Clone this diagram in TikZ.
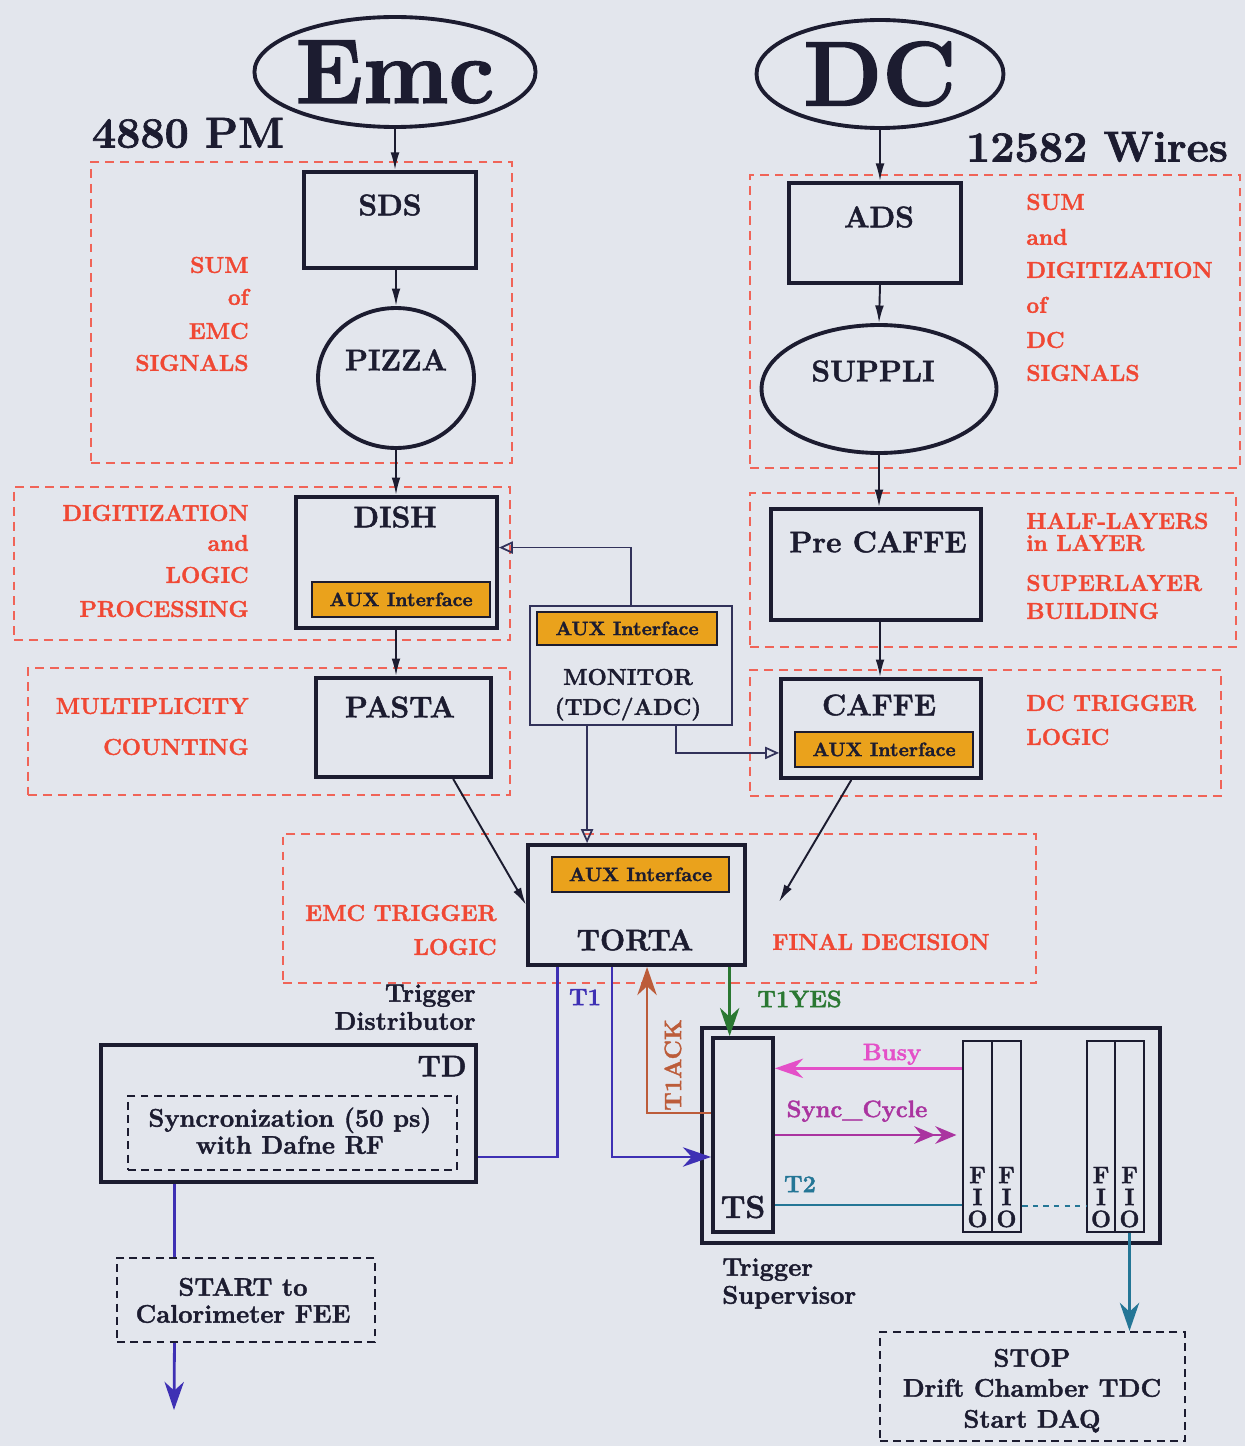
\documentclass[tikz,border=0pt]{standalone}
\usepackage{fontspec}
\setmainfont{Latin Modern Roman}[BoldFeatures={FakeBold=1.6}]
\usepackage{tikz}
\usetikzlibrary{shapes.geometric,fit,arrows.meta}

\definecolor{bgc}{RGB}{227,230,237}
\definecolor{boxc}{RGB}{28,28,48}
\definecolor{linec}{RGB}{50,50,90}
\definecolor{redc}{RGB}{240,72,52}
\definecolor{grpc}{RGB}{240,100,88}
\definecolor{auxc}{RGB}{234,162,28}
\definecolor{t1c}{RGB}{62,48,180}
\definecolor{ackc}{RGB}{188,92,58}
\definecolor{yesc}{RGB}{42,120,50}
\definecolor{busyc}{RGB}{228,80,200}
\definecolor{syncc}{RGB}{170,52,160}
\definecolor{t2c}{RGB}{36,118,150}

\newcommand{\setfs}[1]{\fontsize{#1}{#1}\selectfont}

\tikzset{
	blk/.style={draw=boxc, line width=2.2pt, inner sep=0pt},
	ell/.style={ellipse, draw=boxc, line width=2.2pt, inner sep=0pt, text=boxc},
	grp/.style={draw=grpc, line width=1.5pt, dash pattern=on 5pt off 3.5pt, inner sep=0pt},
	dbox/.style={draw=boxc, line width=1.2pt, dash pattern=on 4.5pt off 3pt, inner sep=0pt},
	aux/.style={draw=boxc, fill=auxc, line width=1pt, inner sep=0pt},
	auxt/.style={text=boxc, font=\bfseries\setfs{11}, text height=7.5pt, text depth=0pt, inner sep=0pt},
	fifo/.style={draw=boxc, line width=1.5pt, inner sep=0pt},
	lab/.style={text=boxc, font=\bfseries\setfs{17}, text height=11.7pt, text depth=0pt, inner sep=0pt},
	note/.style={text=redc, font=\bfseries\setfs{13}, text height=8.9pt, text depth=0pt, inner sep=0pt},
	small/.style={text=boxc, font=\bfseries\setfs{14.5}, text height=9.9pt, text depth=0pt, inner sep=0pt},
	sig/.style={font=\bfseries\setfs{13.5}, text height=9.2pt, text depth=0pt, inner sep=0pt},
	arr/.style={draw=boxc, line width=1.1pt, -{Latex[length=10pt,width=5pt]}},
	oarr/.style={draw=linec, line width=1pt, -{Triangle[open,length=8pt,width=7pt]}},
	carr/.style={line width=1.6pt, -{Stealth[length=16pt,width=11pt,inset=5pt]}},
}

\begin{document}
\begin{tikzpicture}[x=0.02cm, y=-0.02cm]
	% background
	\fill[bgc] (0,0) rectangle (1245,1446);
	\useasboundingbox (0,0) rectangle (1245,1446);
	% red dashed groups
	\node[grp, fit={(91,162) (512,463)}] (gsum) {};
	\node[grp, fit={(750,175) (1240,468)}] (gsumdc) {};
	\node[grp, fit={(14,487) (510,640)}] (gdig) {};
	\node[grp, fit={(750,493) (1236,647)}] (glay) {};
	\node[grp, fit={(28,668) (510,795)}] (gmult) {};
	\node[grp, fit={(750,670) (1221,796)}] (gdct) {};
	\node[grp, fit={(283,834) (1036,983)}] (gfin) {};
	% detectors
	\node[ell, minimum width=4.98cm, minimum height=2.2cm, font=\bfseries\setfs{52}] (emc) at (395,72) {Emc};
	\node[ell, minimum width=4.94cm, minimum height=2.16cm, font=\bfseries\setfs{52}] (dc) at (880,74) {DC};
	\node[text=boxc, font=\bfseries\setfs{24.5}, inner sep=0pt] (npm) at (188,133) {4880 PM};
	\node[text=boxc, font=\bfseries\setfs{24.5}, inner sep=0pt] (nwires) at (1097,147) {12582 Wires};
	% emc chain
	\node[blk, fit={(304,172) (476,268)}] (sds) {};
	\node[lab] (sdst) at (390,205) {SDS};
	\node[ell, minimum width=3.12cm, minimum height=2.8cm] (pizza) at (396,378) {};
	\node[lab] (pizzat) at (396,360) {PIZZA};
	\node[blk, fit={(296,497) (497,628)}] (dish) {};
	\node[lab] (disht) at (395,517) {DISH};
	\node[aux, fit={(312,582) (490,617)}] (dishaux) {};
	\node[auxt] (dishauxt) at (dishaux) {AUX Interface};
	\node[blk, fit={(316,678) (491,777)}] (pasta) {};
	\node[lab] (pastat) at (400,707) {PASTA};
	% dc chain
	\node[blk, fit={(789,183) (961,283)}] (ads) {};
	\node[lab] (adst) at (879,217) {ADS};
	\node[ell, minimum width=4.7cm, minimum height=2.56cm] (suppli) at (879,389) {};
	\node[lab] (supplit) at (873,371) {SUPPLI};
	\node[blk, fit={(771,509) (981,620)}] (precaffe) {};
	\node[lab] (precaffet) at (878,542) {Pre CAFFE};
	\node[blk, fit={(781,679) (981,778)}] (caffe) {};
	\node[lab] (caffet) at (879,705) {CAFFE};
	\node[aux, fit={(795,732) (973,767)}] (caffeaux) {};
	\node[auxt] (caffeauxt) at (caffeaux) {AUX Interface};
	% monitor and torta
	\node[draw=linec, line width=0.9pt, inner sep=0pt, fit={(530,606) (732,725)}] (monitor) {};
	\node[aux, fit={(537,612) (717,645)}] (monaux) {};
	\node[auxt] (monauxt) at (monaux) {AUX Interface};
	\node[lab, font=\bfseries\setfs{13}, text height=8.9pt] (mont) at (628,677) {MONITOR};
	\node[lab, font=\bfseries\setfs{13}, text height=8.9pt] (mont2) at (628,707) {(TDC/ADC)};
	\node[blk, fit={(528,845) (745,965)}] (torta) {};
	\node[aux, fit={(552,857) (729,892)}] (tortaaux) {};
	\node[auxt] (tortaauxt) at (tortaaux) {AUX Interface};
	\node[lab] (tortat) at (635,940) {TORTA};
	\coordinate (fdec) at (779,902);
	% red notes
	\foreach \t/\y in {SUM/265, of/297, EMC/331, SIGNALS/363, DIGITIZATION/513, and/543, LOGIC/575, PROCESSING/609, MULTIPLICITY/706, COUNTING/747}
		\node[note, anchor=east] (nl\y) at (249,\y) {\t};
	\foreach \t/\y in {SUM/202, and/237, DIGITIZATION/270, of/305, DC/340, SIGNALS/373, HALF-LAYERS/521, in LAYER/543, SUPERLAYER/583, BUILDING/611, DC TRIGGER/703, LOGIC/737}
		\node[note, anchor=west] (nr\y) at (1026,\y) {\t};
	\node[note, anchor=east] (nemc1) at (497,913) {EMC TRIGGER};
	\node[note, anchor=east] (nemc2) at (497,947) {LOGIC};
	\node[note, anchor=west] (nfin) at (772,942) {FINAL DECISION};
	% trigger distributor
	\node[small, anchor=east] (ntd1) at (476,993) {Trigger};
	\node[small, anchor=east] (ntd2) at (476,1021) {Distributor};
	\node[blk, line width=2.8pt, fit={(101,1045) (476,1182)}] (td) {};
	\node[lab, anchor=east] (tdt) at (467,1066) {TD};
	\node[dbox, fit={(128,1096) (457,1170)}] (sync) {};
	\node[small] (synct1) at (290,1118) {Syncronization (50 ps)};
	\node[small] (synct2) at (290,1145) {with Dafne RF};
	\node[dbox, fit={(117,1258) (375,1342)}] (start) {};
	\node[small] (startt1) at (243,1287) {START to};
	\node[small] (startt2) at (243,1314) {Calorimeter FEE};
	\coordinate (calo) at (174,1410);
	% trigger supervisor
	\node[blk, line width=2.4pt, fit={(702,1028) (1160,1243)}] (sup) {};
	\node[blk, fit={(713,1038) (773,1232)}] (ts) {};
	\node[lab, font=\bfseries\setfs{18}, text height=12.4pt] (tst) at (743,1207) {TS};
	\foreach \n/\a/\b in {fa/963/992, fb/992/1021, fc/1087/1115, fd/1115/1144}{
		\node[fifo, fit={(\a,1041) (\b,1232)}] (\n) {};
		\foreach \l/\y in {F/1175, I/1197, O/1219}
			\node[lab, font=\bfseries\setfs{13.5}, text height=9.2pt] (\n\l) at ({(\a+\b)/2},\y) {\l};
	}
	\node[small, anchor=west] (nts1) at (722,1267) {Trigger};
	\node[small, anchor=west] (nts2) at (722,1295) {Supervisor};
	\node[dbox, fit={(880,1332) (1185,1441)}] (stop) {};
	\node[small] (stopt1) at (1032,1358) {STOP};
	\node[small] (stopt2) at (1032,1388) {Drift Chamber TDC};
	\node[small] (stopt3) at (1032,1419) {Start DAQ};
	% signal labels
	\node[sig, text=t1c] (nt1) at (585,997) {T1};
	\node[sig, text=yesc, anchor=west] (nyes) at (757,999) {T1YES};
	\node[sig, text=ackc, rotate=90] (nack) at (673,1065) {T1ACK};
	\node[sig, text=busyc] (nbusy) at (892,1052) {Busy};
	\node[sig, text=syncc] (nsync) at (857,1109) {Sync\_Cycle};
	\node[sig, text=t2c] (nt2) at (800,1184) {T2};
	% black arrows
	\draw[arr] (emc.south) -- (emc.south |- sds.north);
	\draw[arr] (pizza.north |- sds.south) -- (pizza.north);
	\draw[arr] (pizza.south) -- (pizza.south |- dish.north);
	\draw[arr] (dish.south -| pizza) -- (pasta.north -| pizza);
	\draw[arr] (dc.south) -- (dc.south |- ads.north);
	\draw[arr] (ads.south -| dc) -- (suppli.north);
	\draw[arr] (suppli.south) -- (suppli.south |- precaffe.north);
	\draw[arr] (precaffe.south -| dc) -- (caffe.north -| dc);
	\draw[arr] (pasta.-46) -- (torta.west);
	\draw[arr] (caffe.-120) -- (fdec);
	% monitor links
	\draw[oarr] (monitor.north) |- ([yshift=8.5pt]dish.east);
	\draw[oarr] ([xshift=25.5pt]monitor.south) |- ([yshift=-13.9pt]caffe.west);
	\draw[oarr] ([xshift=-25pt]monitor.south) coordinate (mb) -- (mb |- torta.north);
	% trigger signals
	\draw[t1c, line width=1.6pt] ([xshift=-45pt]torta.south) |- ([yshift=-24.7pt]td.east);
	\draw[carr, t1c] ([xshift=-13.9pt]torta.south) |- ([yshift=-12.5pt]ts.west);
	\draw[carr, ackc] ([yshift=12.5pt]ts.west) -| ([xshift=6pt]torta.south);
	\draw[carr, yesc] ([xshift=53pt]torta.south) coordinate (gy) -- (gy |- ts.north);
	\draw[carr, busyc] ([yshift=38.8pt]fa.west) -- ([yshift=38.8pt]fa.west -| ts.east);
	\draw[syncc, line width=1.6pt, -{Stealth[length=12pt,width=10pt,inset=4pt] Stealth[length=12pt,width=10pt,inset=4pt]}, shorten >=3pt] (ts.east) -- (ts.east -| fa.west);
	\draw[t2c, line width=1.2pt] ([yshift=-39.7pt]ts.east) -- ([yshift=-39.7pt]ts.east -| fa.west);
	\draw[t2c, line width=1.2pt, dashed] ([yshift=-39.7pt]fb.east) -- ([yshift=-39.7pt]fc.west);
	\draw[carr, t2c] (fd.south) -- (fd.south |- stop.north);
	\draw[t1c, line width=1.6pt] ([xshift=-64.9pt]td.south) coordinate (ta) -- (ta |- start.north);
	\draw[carr, t1c] (ta |- start.south) -- (calo);
\end{tikzpicture}
\end{document}
